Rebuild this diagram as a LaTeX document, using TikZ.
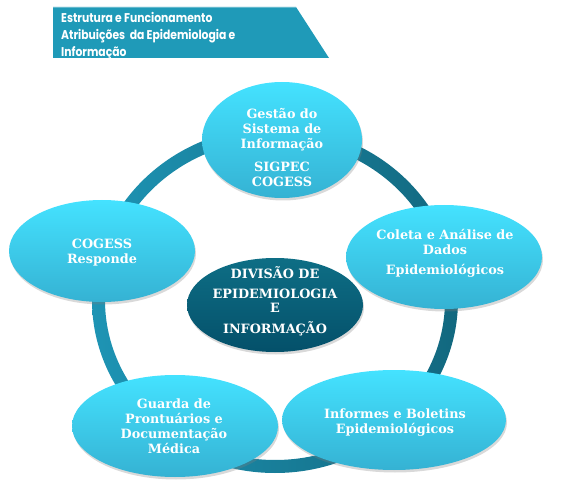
\documentclass[tikz,border=0pt]{standalone}
\usepackage{fontspec}
\setmainfont{DejaVu Serif}
\newfontfamily\headfont[FakeStretch=0.85]{Poppins}
\usetikzlibrary{shapes.geometric,shadows}

\begin{document}
\begin{tikzpicture}[x=1pt,y=-1pt,
  bubble/.style={ellipse,inner sep=0pt,top color=bubtop,bottom color=bubbot,
    drop shadow={opacity=0.3,shadow xshift=1pt,shadow yshift=-2.5pt}},
  core/.style={bubble,top color=coretop,bottom color=corebot},
  bubtxt/.style={text=white,align=center,inner sep=0pt,
    font=\bfseries\fontsize{12.8}{15}\selectfont}]
\useasboundingbox (0,0) rectangle (566,503);
\definecolor{bubtop}{RGB}{68,226,255}
\definecolor{bubbot}{RGB}{53,178,211}
\definecolor{coretop}{RGB}{14,110,133}
\definecolor{corebot}{RGB}{4,80,106}
\definecolor{ringl}{RGB}{30,148,180}
\definecolor{ringr}{RGB}{18,104,127}
\definecolor{headbg}{RGB}{31,154,184}
%% Title banner
\fill[headbg] (53,7)--(296,7)--(329,58)--(53,58)--cycle;
\draw[headbg!70!white,line width=0.8pt] (53,7.4)--(296,7.4);
\node[anchor=north west,inner sep=0pt,text=white,align=left,
  font=\headfont\bfseries\fontsize{12.7}{17}\selectfont] (title) at (61,12)
  {Estrutura e Funcionamento\\Atribuições\ \ da Epidemiologia e\\Informação};
%% Ring
\shade[left color=ringl,right color=ringr,even odd rule]
  (275,300) ellipse [x radius=183pt,y radius=173pt]
  (275,300) ellipse [x radius=170pt,y radius=160pt];
%% Bubbles
\node[bubble,minimum width=160pt,minimum height=116pt] (gestao) at (282,140) {};
\node[bubble,minimum width=186pt,minimum height=102pt] (responde) at (102,251) {};
\node[bubble,minimum width=196pt,minimum height=104pt] (coleta) at (444,257) {};
\node[core,minimum width=176pt,minimum height=94pt] (divisao) at (275,305) {};
\node[bubble,minimum width=206pt,minimum height=102pt] (guarda) at (175,426) {};
\node[bubble,minimum width=224pt,minimum height=100pt] (informes) at (394,420) {};
%% Texts
\node[bubtxt] (gestaoTxt) at (282,148)
  {Gestão do\\Sistema de\\Informação\\[8pt]SIGPEC\\COGESS};
\node[bubtxt] (respondeTxt) at (102,252.5) {COGESS\\Responde};
\node[bubtxt] (coletaTxt) at (445,253)
  {Coleta e Análise de\\Dados\\[5pt]Epidemiológicos};
\node[bubtxt] (divisaoTxt) at (275,301)
  {DIVISÃO DE\\[5pt]EPIDEMIOLOGIA\\[-1pt]E\\[6pt]INFORMAÇÃO};
\node[bubtxt] (guardaTxt) at (174,426)
  {Guarda de\\Prontuários e\\Documentação\\Médica};
\node[bubtxt] (informesTxt) at (395,422.5)
  {Informes e Boletins\\Epidemiológicos};
\end{tikzpicture}
\end{document}
